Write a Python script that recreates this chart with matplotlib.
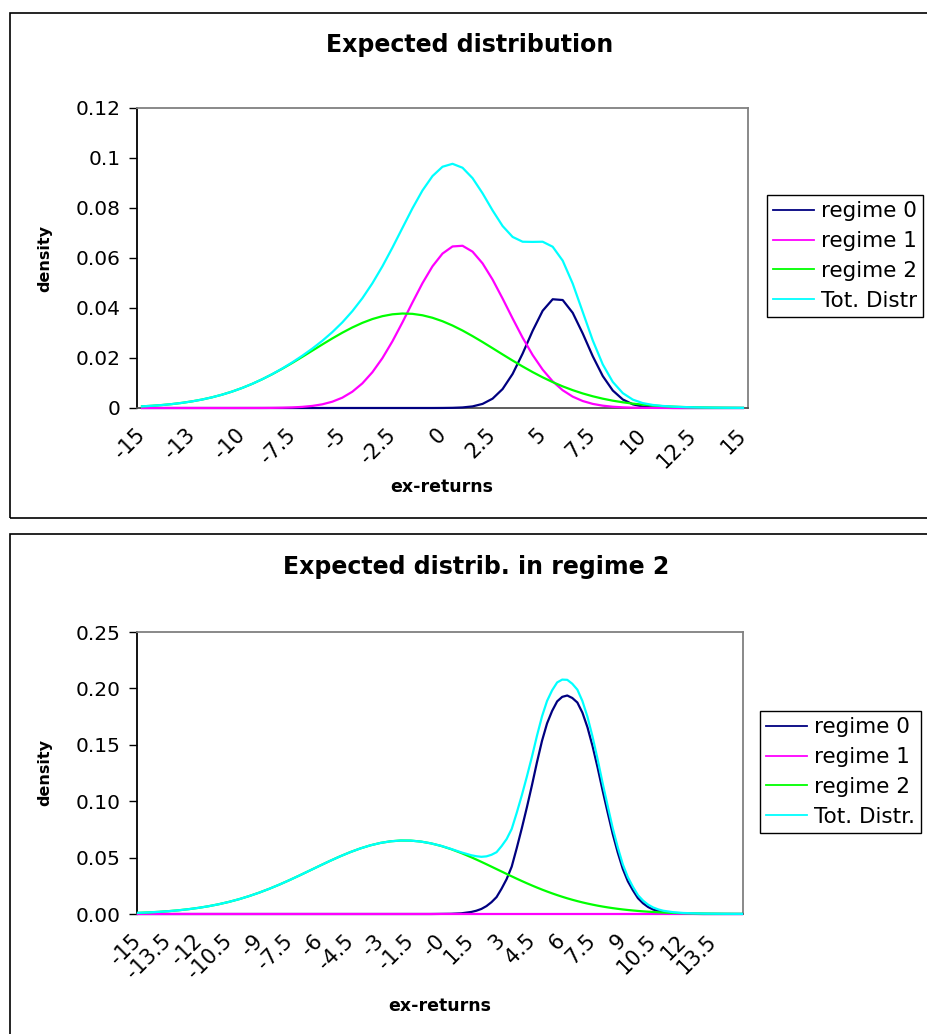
import matplotlib
matplotlib.use('Agg')
import matplotlib.pyplot as plt
from matplotlib.patches import Rectangle
import numpy as np

# top chart: categories -15..15 step 0.5
x_top = np.linspace(-15, 15, 61)
top_tick_labels = ['-15','-13','-10','-7.5','-5','-2.5','0','2.5','5','7.5','10','12.5','15']

regime0_top = [0,0,0,0,0,0,0,0,0,0,0,0,0,0,0,0,0,0,0,0,0,0,0,0,0,0,0,0,0,0,
               0.00002,0.00007,0.00022,0.00064,0.00164,0.00374,0.00758,0.01363,0.02178,0.03088,
               0.0389,0.0435,0.04319,0.03807,0.02981,0.02071,0.01278,0.007,0.00341,0.00147,
               0.00056,0.00019,0.00006,0.00002,0,0,0,0,0,0,0]
regime1_top = [0,0,0,0,0,0,0,0,0,0,
               0.000005,0.00001,0.00002,0.00005,0.00011,0.00023,0.00045,0.00083,0.00147,0.00252,
               0.00413,0.00652,0.00985,0.01431,0.01994,0.02667,0.03424,0.0422,0.04992,0.05668,
               0.06177,0.06462,0.06489,0.06254,0.05785,0.05137,0.04378,0.03582,0.02812,0.0212,
               0.01534,0.01065,0.0071,0.00454,0.00279,0.00164,0.00093,0.0005,0.00026,0.00013,
               0.00006,0.00003,0.00001,0,0,0,0,0,0,0,0]
regime2_top = [0.00066,0.00089,0.00119,0.00157,0.00206,0.00266,0.00339,0.00428,0.00534,0.00658,
               0.00802,0.00965,0.01149,0.01351,0.01569,0.01802,0.02045,0.02293,0.02541,0.02783,
               0.03012,0.03222,0.03406,0.03558,0.03673,0.03748,0.03779,0.03766,0.03709,0.03609,
               0.03471,0.03299,0.03099,0.02876,0.02639,0.02392,0.02143,0.01898,0.01661,0.01436,
               0.01227,0.01036,0.00865,0.00714,0.00582,0.00469,0.00373,0.00293,0.00228,0.00175,
               0.00133,0.001,0.00074,0.00054,0.00039,0.00028,0.0002,0.00014,0.0001,0.00007,0.00004]
total_top = [0.00066,0.00089,0.00119,0.00157,0.00206,0.00266,0.00339,0.00428,0.00534,0.00658,
             0.00802,0.00966,0.01151,0.01356,0.0158,0.01825,0.0209,0.02376,0.02688,0.03035,
             0.03425,0.03874,0.04391,0.04989,0.05667,0.06415,0.07203,0.07986,0.08701,0.09277,
             0.0965,0.09768,0.0961,0.09194,0.08588,0.07903,0.07279,0.06843,0.06651,0.06644,
             0.06651,0.06451,0.05894,0.04975,0.03842,0.02704,0.01744,0.01043,0.00595,0.00335,
             0.00195,0.00122,0.00081,0.00056,0.00039,0.00028,0.0002,0.00014,0.0001,0.00007,0.00004]

# bottom chart: categories -15..14.9 step 0.1, read at coarser points
x_bot = np.concatenate([np.arange(-15, 1.75, 0.5), np.arange(1.75, 11.01, 0.25),
                        np.arange(11.5, 14.51, 0.5), [14.9]])
bot_tick_labels = ['-15','-13.5','-12','-10.5','-9','-7.5','-6','-4.5','-3','-1.5','-0',
                   '1.5','3','4.5','6','7.5','9','10.5','12','13.5']

regime0_bot = [0,0,0,0,0,0,0,0,0,0,0,0,0,0,0,0,0,0,0,0,0,0,0,0,0,0,0,0,0,0,
               0.0001,0.0002,0.0006,0.0018,
               0.0029,0.0045,0.007,0.0105,0.015,0.0225,0.031,0.042,0.0585,0.076,
               0.0945,0.114,0.1345,0.1535,0.169,0.18,0.1885,0.1925,0.1937,0.1915,
               0.1875,0.1785,0.1655,0.149,0.13,0.1095,0.09,0.071,0.0545,0.04,
               0.029,0.021,0.014,0.0095,0.0062,0.004,0.0026,0.0016,
               0.0006,0.0002,0.0001,0,0,0,0,0]
regime1_bot = [0.0] * 80
regime2_bot = [0.00102,0.00139,0.00188,0.0025,0.00328,0.00426,0.00546,0.00692,0.00867,0.01073,
               0.01312,0.01587,0.01895,0.02236,0.02608,0.03005,0.03422,0.03851,0.04282,0.04705,
               0.05108,0.0548,0.05809,0.06086,0.063,0.06444,0.06514,0.06506,0.06422,0.06263,
               0.06036,0.05747,0.05408,0.05029,
               0.04828,0.04621,0.0441,0.04196,0.0398,0.03765,0.0355,0.03338,0.03129,0.02924,
               0.02725,0.02532,0.02345,0.02165,0.01994,0.01831,0.01676,0.01529,0.01391,0.01262,
               0.01141,0.01029,0.00926,0.0083,0.00741,0.00661,0.00587,0.0052,0.00459,0.00404,
               0.00355,0.00311,0.00271,0.00236,0.00205,0.00177,0.00153,0.00131,
               0.00096,0.0007,0.0005,0.00035,0.00025,0.00017,0.00012,0.00009]
total_bot = [0.00102,0.00139,0.00188,0.0025,0.00328,0.00426,0.00546,0.00692,0.00867,0.01073,
             0.01312,0.01587,0.01895,0.02236,0.02608,0.03005,0.03422,0.03851,0.04282,0.04705,
             0.05108,0.0548,0.05809,0.06086,0.063,0.06444,0.06514,0.06506,0.06422,0.06263,
             0.06046,0.05767,0.05468,0.05209,
             0.0512,0.0507,0.0511,0.0525,0.0548,0.0602,0.0665,0.0754,0.0898,0.1052,
             0.1218,0.1393,0.158,0.1752,0.1889,0.1983,0.2053,0.2078,0.2076,0.2041,
             0.1989,0.1888,0.1748,0.1573,0.1374,0.1161,0.0959,0.0762,0.0591,0.044,
             0.0326,0.0241,0.0167,0.0119,0.0083,0.0058,0.0041,0.0029,
             0.0016,0.0009,0.0006,0.00035,0.00025,0.00017,0.00012,0.00009]

top_legend = ['regime 0', 'regime 1', 'regime 2', 'Tot. Distr']
bot_legend = ['regime 0', 'regime 1', 'regime 2', 'Tot. Distr.']
colors = ['#000080', '#FF00FF', '#00FF00', '#00FFFF']

W, H = 928, 1034
fig = plt.figure(figsize=(W/100, H/100), dpi=100)
fig.patch.set_facecolor('white')

def px_rect(left, top, right, bottom):
    return [left/W, 1-bottom/H, (right-left)/W, (bottom-top)/H]

# chart area frames (cut by the image edge on the right)
fig.patches.append(Rectangle((10/W, 1-518/H), 940/W, 505/H, transform=fig.transFigure,
                             fill=False, edgecolor='black', linewidth=1.2))
fig.patches.append(Rectangle((10/W, 1-1060/H), 940/W, 526/H, transform=fig.transFigure,
                             fill=False, edgecolor='black', linewidth=1.2))

def draw_chart(rect, x, series, labels, xlim, ticks, ticklabels, ylim, yticks, yticklabels,
               title, title_xy, xlabel_xy, ylabel_xy, legend_xy):
    ax = fig.add_axes(rect)
    for ys, lab, c in zip(series, labels, colors):
        # lines sit on top of the axis, like Excel
        ax.plot(x, ys, color=c, linewidth=1.6, label=lab, solid_joinstyle='round',
                clip_on=False, zorder=3)
    ax.set_xlim(*xlim)
    ax.set_ylim(*ylim)
    ax.set_xticks(ticks)
    ax.set_xticklabels(ticklabels, rotation=45, ha='right', va='center', rotation_mode='anchor')
    ax.set_yticks(yticks)
    ax.set_yticklabels(yticklabels)
    ax.tick_params(axis='x', length=0, pad=17, labelsize=15)
    ax.tick_params(axis='y', length=6, width=1, direction='out', pad=6, labelsize=14.5)
    ax.spines['top'].set_color('#808080')
    ax.spines['right'].set_color('#808080')
    ax.spines['bottom'].set_color('#505050')
    ax.spines['left'].set_color('black')
    for s in ax.spines.values():
        s.set_linewidth(1.3)
        s.set_zorder(2)
    fig.text(title_xy[0]/W, 1-title_xy[1]/H, title, ha='center', va='center',
             fontsize=17, fontweight='bold')
    fig.text(xlabel_xy[0]/W, 1-xlabel_xy[1]/H, 'ex-returns', ha='center', va='center',
             fontsize=12.5, fontweight='bold')
    fig.text(ylabel_xy[0]/W, 1-ylabel_xy[1]/H, 'density', ha='center', va='center',
             rotation=90, fontsize=11.5, fontweight='bold')
    leg = ax.legend(loc='upper left', bbox_to_anchor=(legend_xy[0]/W, 1-legend_xy[1]/H),
                    bbox_transform=fig.transFigure, fontsize=15.5, frameon=True,
                    fancybox=False, framealpha=1, edgecolor='black', borderpad=0.3,
                    handlelength=1.9, handletextpad=0.3, labelspacing=0.45, borderaxespad=0)
    leg.get_frame().set_linewidth(1.0)
    for line in leg.get_lines():
        line.set_linewidth(1.3)
    return ax

draw_chart(px_rect(137, 108, 748, 408), x_top,
           [regime0_top, regime1_top, regime2_top, total_top], top_legend,
           (-15.25, 15.25), np.linspace(-15, 15, 13), top_tick_labels,
           (0, 0.12), np.arange(0, 0.121, 0.02), ['0','0.02','0.04','0.06','0.08','0.1','0.12'],
           'Expected distribution', (470, 45), (442, 487), (45, 258), (767, 195))

draw_chart(px_rect(137, 632, 743, 914), x_bot,
           [regime0_bot, regime1_bot, regime2_bot, total_bot], bot_legend,
           (-15.05, 14.95), -15 + 1.5*np.arange(20), bot_tick_labels,
           (0, 0.25), np.arange(0, 0.251, 0.05), ['0.00','0.05','0.10','0.15','0.20','0.25'],
           'Expected distrib. in regime 2', (476, 567), (440, 1006), (45, 773), (760, 711))

fig.savefig('out.png', dpi=100)
